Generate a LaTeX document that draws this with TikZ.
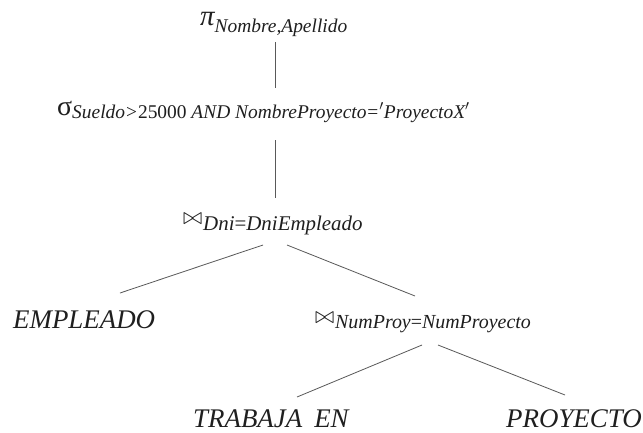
\documentclass[tikz,border=0pt]{standalone}
\usepackage{fontspec}
\setmainfont{Liberation Serif}
\usetikzlibrary{calc}

% lowered italic subscript of an operator
\newcommand{\opsub}[2][4]{\raisebox{-#1bp}{\fontsize{19.5}{20}\selectfont\itshape #2}}
% join symbol, stretched to a wide bow tie
\newcommand{\joinop}{\raisebox{2bp}{\resizebox{19bp}{11bp}{$\bowtie$}}\kern1bp}
% prime mark
\newcommand{\pr}{\ensuremath{{}'}}

\begin{document}
\begin{tikzpicture}[x=1bp,y=-1bp,
  txt/.style={inner sep=0pt, anchor=base west, text=black!88},
  rel/.style={txt, font=\fontsize{27}{27}\selectfont\itshape},
  edge/.style={draw=black!65, line width=0.8bp}]
  \fill[white] (0,0) rectangle (643,432);
  \useasboundingbox (0,0) rectangle (643,432);

  % operators
  \node[txt] (pi) at (200,25)
    {\fontsize{29}{29}\selectfont\itshape π\opsub[7]{Nombre,Apellido}};
  \node[txt] (sigma) at (57,115)
    {\fontsize{28}{28}\selectfont σ\opsub[3]{Sueldo\kern1bp\upshape{>}\kern1bp 25000 \itshape AND NombreProyecto\kern1bp\upshape{=}\itshape\kern1bp\pr ProyectoX\pr}};
  \node[txt] (j1) at (183,226)
    {\joinop\opsub[4]{\fontsize{21}{21}\selectfont Dni\upshape{=}\itshape DniEmpleado}};
  \node[txt] (j2) at (315,325)
    {\joinop\opsub[3]{\fontsize{20}{20}\selectfont NumProy\upshape{=}\itshape NumProyecto}};

  % relations
  \node[rel] (emp) at (13,328) {EMPLEADO};
  \node[rel] (tra) at (193,427) {TRABAJA\hspace{12bp}EN};
  \node[rel] (pro) at (506,427) {PROYECTO};

  % tree edges
  \draw[edge] ($(pi.base west)+(75,17)$) -- ($(sigma.base west)+(218,-27)$);
  \draw[edge] ($(sigma.base west)+(218,25)$) -- ($(j1.base west)+(92,-28)$);
  \draw[edge] ($(j1.base west)+(80,19)$) -- ($(emp.base west)+(107,-35)$);
  \draw[edge] ($(j1.base west)+(104,19)$) -- ($(j2.base west)+(100,-29)$);
  \draw[edge] ($(j2.base west)+(107,20)$) -- ($(tra.base west)+(104,-30)$);
  \draw[edge] ($(j2.base west)+(123,20)$) -- ($(pro.base west)+(59,-32)$);
\end{tikzpicture}
\end{document}
